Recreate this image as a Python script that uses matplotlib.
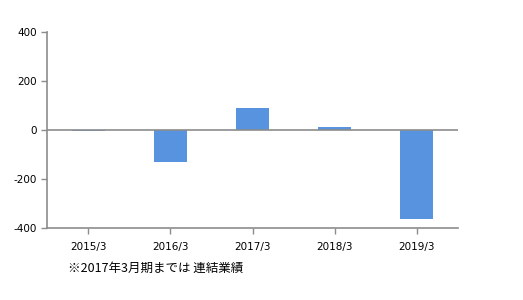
import matplotlib
matplotlib.use("Agg")
import matplotlib.pyplot as plt
import numpy as np

# %% data
periods = ["2015/3", "2016/3", "2017/3", "2018/3", "2019/3"]
values = [-5, -130, 88, 12, -363]
y_ticks = [-400, -200, 0, 200, 400]
note = "※2017年3月期までは 連結業績"

# %% plot
fig = plt.figure(figsize=(5.23, 3.0), dpi=100)
ax = fig.add_axes([47 / 523, 72 / 300, 411 / 523, 196 / 300])

x = np.arange(len(periods))
ax.bar(x, values, width=0.4, color="#5893e0", zorder=2)
ax.axhline(0, color="#8c8c8c", lw=1.2, zorder=3)

ax.set_xlim(-0.5, len(periods) - 0.5)
ax.set_ylim(-400, 400)
ax.set_yticks(y_ticks)
ax.set_yticklabels([str(v) for v in y_ticks])
ax.set_xticks(x)
ax.set_xticklabels(periods)
ax.tick_params(axis="both", labelsize=7.5, colors="#8c8c8c", labelcolor="black",
               length=4, width=1)
ax.tick_params(axis="x", pad=6)

for side in ["top", "right"]:
    ax.spines[side].set_visible(False)
for side in ["left", "bottom"]:
    ax.spines[side].set_color("#8c8c8c")
    ax.spines[side].set_linewidth(1.2)

fig.text(68 / 523, 1 - 268 / 300, note, fontsize=9, va="center", ha="left",
         family=["Noto Sans CJK JP", "DejaVu Sans"])

fig.savefig("out.png", dpi=100)
